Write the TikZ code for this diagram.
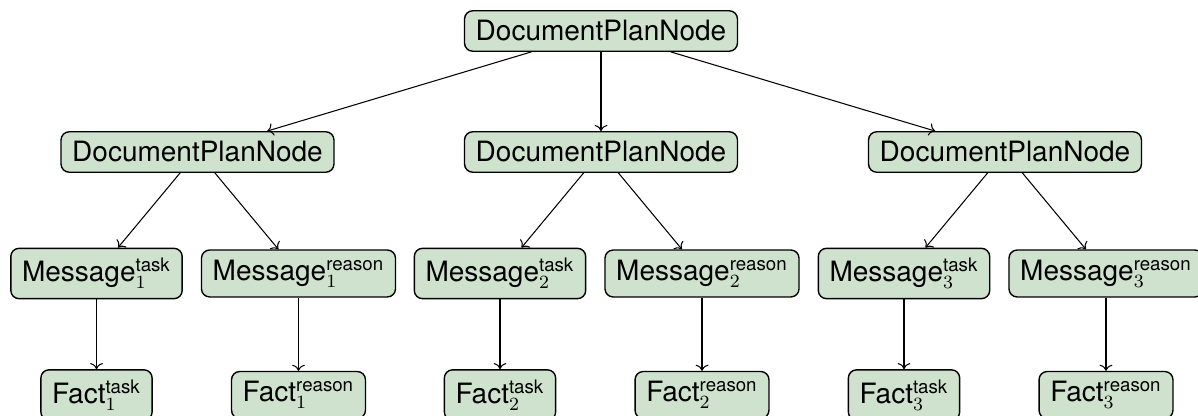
\documentclass[tikz,border=0pt]{standalone}
\usepackage[no-math]{fontspec}
\setmainfont{TeX Gyre Heros}
\usepackage{amsmath}
\usepackage{tikz}
\usetikzlibrary{positioning,arrows.meta}
\definecolor{planGreen}{RGB}{207,226,205}
\tikzset
{
  PlanBox/.style=
  {
    draw,
    line width=0.6pt,
    fill=planGreen,
    rounded corners=3.5pt,
    inner xsep=4.8pt,
    inner ysep=4.2pt,
    font=\fontsize{12}{14}\selectfont,
  },
  Edge/.style=
  {
    ->,
    line width=0.45pt,
  }
}
\begin{document}
\begin{tikzpicture}
[
  x=0.4286pt, y=-0.4286pt, % one unit per pixel of the layout
]
\useasboundingbox (0,0) rectangle (1198,416);
\node (root) [PlanBox] at (601,31) {DocumentPlanNode};
\foreach \i/\px in {1/197.5,2/601,3/1005}
{
  \node (plan\i) [PlanBox] at (\px,152) {DocumentPlanNode};
  \node (msgTask\i) [PlanBox] at (\px-101,273.5) {Message$_{\i}^{\text{task}}$};
  \node (msgReason\i) [PlanBox] at (\px+101,273.5) {Message$_{\i}^{\text{reason}}$};
  \node (factTask\i) [PlanBox] at (\px-101,395) {Fact$_{\i}^{\text{task}}$};
  \node (factReason\i) [PlanBox] at (\px+101,395) {Fact$_{\i}^{\text{reason}}$};
  \draw [Edge] (root) -- (plan\i);
  \draw [Edge] (plan\i) -- (msgTask\i);
  \draw [Edge] (plan\i) -- (msgReason\i);
  \draw [Edge] (msgTask\i) -- (factTask\i);
  \draw [Edge] (msgReason\i) -- (factReason\i);
}
\end{tikzpicture}
\end{document}
